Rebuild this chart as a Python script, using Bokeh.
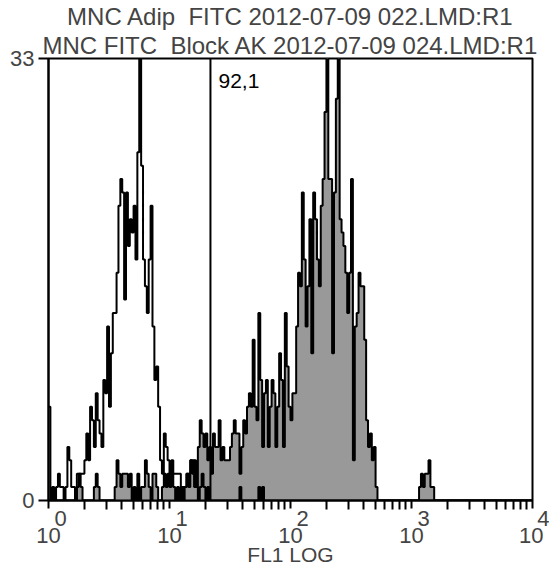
import numpy as np
from bokeh.plotting import figure
from bokeh.models import FixedTicker, Label, Span, Title, Range1d
from bokeh.embed import file_html
from bokeh.resources import INLINE

# ---------------- data ----------------
title_top = "MNC Adip \u00a0FITC 2012-07-09 022.LMD:R1"
title_bottom = "MNC FITC \u00a0Block AK 2012-07-09 024.LMD:R1"
x_label = "FL1 LOG"

n_channels = 256
n_decades = 4
y_max = 33

# open (outline only) histogram, 256 channels
block_counts = [
    7, 0, 1, 0, 1, 2, 1, 1, 0, 1, 4, 3, 1, 1, 0, 2,
    2, 2, 2, 3, 5, 3, 7, 6, 4, 8, 6, 5, 4, 9, 8, 13,
    7, 11, 14, 14, 17, 22, 24, 23, 15, 23, 19, 21, 20, 22, 18, 26,
    35, 25, 18, 16, 14, 18, 22, 13, 9, 10, 7, 3, 2, 5, 4, 3,
    2, 3, 2, 2, 2, 2, 1, 1, 1, 2, 2, 3, 3, 1, 1, 0,
    1, 2, 1, 0, 1, 0, 0, 0, 0, 0, 0, 0, 0, 0, 0, 0,
    0, 0, 0, 0, 0, 1, 0, 0, 0, 0, 0, 0, 0, 0, 0, 1,
    0, 1, 0, 0, 0, 0, 0, 0, 0, 0, 0, 0, 0, 0, 0, 0,
    0, 0, 0, 0, 0, 0, 0, 0, 0, 0, 0, 0, 0, 0, 0, 0,
    0, 0, 0, 0, 0, 0, 0, 0, 0, 0, 0, 0, 0, 0, 0, 0,
    0, 0, 0, 0, 0, 0, 0, 0, 0, 0, 0, 0, 0, 0, 0, 0,
    0, 0, 0, 0, 0, 0, 0, 0, 0, 0, 0, 0, 0, 0, 0, 0,
    0, 0, 0, 0, 0, 0, 0, 0, 0, 0, 0, 0, 0, 0, 0, 0,
    0, 0, 0, 0, 0, 0, 0, 0, 0, 0, 0, 0, 0, 0, 0, 0,
    0, 0, 0, 0, 0, 0, 0, 0, 0, 0, 0, 0, 0, 0, 0, 0,
    0, 0, 0, 0, 0, 0, 0, 0, 0, 0, 0, 0, 0, 0, 0, 0,
]

# filled (gray) histogram, 256 channels
adip_counts = [
    0, 0, 0, 0, 0, 0, 0, 0, 0, 0, 0, 0, 0, 0, 0, 1,
    2, 1, 0, 0, 0, 0, 0, 0, 1, 2, 1, 0, 0, 0, 0, 0,
    0, 0, 0, 1, 3, 2, 1, 2, 2, 2, 1, 2, 0, 1, 0, 2,
    0, 1, 1, 3, 2, 1, 0, 2, 2, 1, 0, 0, 1, 2, 1, 2,
    1, 2, 1, 0, 1, 0, 1, 0, 1, 2, 1, 3, 2, 3, 1, 4,
    6, 5, 4, 5, 3, 4, 2, 5, 4, 4, 6, 3, 4, 3, 3, 3,
    4, 5, 6, 5, 5, 2, 4, 6, 5, 7, 8, 7, 12, 7, 6, 14,
    9, 4, 8, 9, 4, 7, 9, 8, 4, 7, 11, 9, 4, 14, 10, 7,
    6, 8, 8, 13, 17, 16, 23, 18, 13, 16, 21, 11, 23, 21, 18, 16,
    22, 24, 29, 36, 24, 24, 11, 23, 30, 36, 21, 20, 19, 17, 14, 17,
    24, 3, 13, 14, 17, 16, 16, 12, 6, 4, 5, 3, 4, 1, 0, 0,
    0, 0, 0, 0, 0, 0, 0, 0, 0, 0, 0, 0, 0, 0, 0, 0,
    0, 0, 0, 0, 1, 2, 1, 2, 2, 3, 1, 1, 0, 0, 0, 0,
    0, 0, 0, 0, 0, 0, 0, 0, 0, 0, 0, 0, 0, 0, 0, 0,
    0, 0, 0, 0, 0, 0, 0, 0, 0, 0, 0, 0, 0, 0, 0, 0,
    0, 0, 0, 0, 0, 0, 0, 0, 0, 0, 0, 0, 0, 0, 0, 0,
]

gate_position = 21.8
gate_text = "92,1"
gate_text_x = 25.4
gate_text_y = 31.3

tick_values = [1, 10, 100, 1000, 10000]
tick_base = "10"
tick_exponents = ["0", "1", "2", "3", "4"]
y_ticks = [0, 33]

# ---------------- derived ----------------
edges = 10.0 ** (np.arange(n_channels + 1) * n_decades / n_channels)
step_x = edges
step_block = list(block_counts) + [block_counts[-1]]
step_adip = list(adip_counts) + [adip_counts[-1]]

FONT = "Liberation Sans"
NB = "\u00a0"

p = figure(
    width=549, height=569,
    x_axis_type="log",
    x_range=Range1d(1, 10000), y_range=Range1d(0, y_max),
    output_backend="svg", toolbar_location=None,
    min_border_left=48, min_border_right=17,
    min_border_top=58, min_border_bottom=69,
)
p.background_fill_color = "white"
p.border_fill_color = "white"
p.grid.visible = False
p.outline_line_color = "black"
p.outline_line_width = 2

# filled histogram
p.varea_step(x=step_x, y1=np.zeros(len(step_x)), y2=step_adip,
             step_mode="after", fill_color="#999999")
p.step(x=step_x, y=step_adip, mode="after", line_color="black", line_width=2)
# open histogram
p.step(x=step_x, y=step_block, mode="after", line_color="black", line_width=2)

# gate marker
p.add_layout(Span(location=gate_position, dimension="height",
                  line_color="black", line_width=2))
p.add_layout(Label(x=gate_text_x, y=gate_text_y, text=gate_text,
                   text_font=FONT, text_font_size="21px",
                   text_baseline="middle", text_align="left", text_color="black"))

# x axis: "10" with raised exponent (two-line tick labels)
xa = p.xaxis[0]
minor = [k * 10 ** d for d in range(n_decades) for k in range(2, 10)]
xa.ticker = FixedTicker(ticks=tick_values, minor_ticks=minor)
xa.major_label_overrides = {v: NB * 4 + e + "\n" + tick_base
                            for v, e in zip(tick_values, tick_exponents)}
xa.major_label_text_font = FONT
xa.major_label_text_font_size = "22px"
xa.major_label_text_line_height = 0.68
xa.major_label_standoff = -4
xa.major_tick_in = 0
xa.major_tick_out = 8
xa.minor_tick_in = 0
xa.minor_tick_out = 9
xa.axis_line_width = 2
xa.major_tick_line_width = 2
xa.minor_tick_line_width = 2
xa.axis_label = x_label
xa.axis_label_text_font = FONT
xa.axis_label_text_font_size = "21px"
xa.axis_label_text_font_style = "normal"
xa.axis_label_standoff = -8

# y axis
ya = p.yaxis[0]
ya.ticker = FixedTicker(ticks=y_ticks, minor_ticks=[])
ya.major_label_text_font = FONT
ya.major_label_text_font_size = "22px"
ya.major_label_standoff = 4
ya.major_tick_in = 0
ya.major_tick_out = 10
ya.major_tick_line_width = 2
ya.axis_line_width = 2

# titles (first added sits closest to the plot)
p.title = None
p.add_layout(Title(text=title_bottom, align="center", text_font=FONT,
                   text_font_size="24px", text_font_style="normal",
                   standoff=0, offset=0), "above")
p.add_layout(Title(text=title_top, align="center", text_font=FONT,
                   text_font_size="24px", text_font_style="normal",
                   standoff=0, offset=0), "above")

open("out.html", "w").write(file_html(p, INLINE))
